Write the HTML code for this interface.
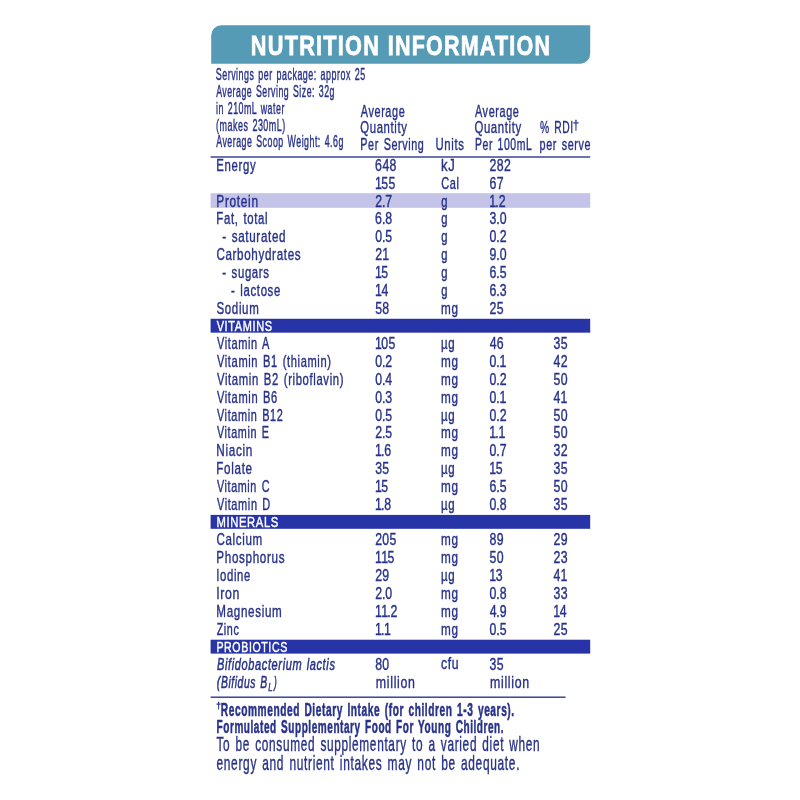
<!DOCTYPE html>
<html lang="en">
<head>
<meta charset="utf-8">
<title>Nutrition Information</title>
<style>
html,body{margin:0;padding:0;background:#ffffff;}
body{width:800px;height:800px;overflow:hidden;}
svg{display:block;}
svg text{font-family:"Liberation Sans",sans-serif;white-space:pre;}
</style>
</head>
<body>
<svg width="800" height="800" viewBox="0 0 800 800">
<rect width="800" height="800" fill="#ffffff"/>
<g fill="#28328a">
<path d="M221.2 25.3H590.2V53.8A10 10 0 0 1 580.2 63.8H211.2V35.3A10 10 0 0 1 221.2 25.3Z" fill="#559bb6"/>
<text transform="translate(250.84 54.65) scale(0.7893 1)" font-size="27.5" font-weight="bold" fill="#ffffff" letter-spacing="1.57" stroke="#ffffff" stroke-width="0.7" vector-effect="non-scaling-stroke">NUTRITION</text>
<text transform="translate(387.70 54.65) scale(0.7820 1)" font-size="27.5" font-weight="bold" fill="#ffffff" letter-spacing="1.57" stroke="#ffffff" stroke-width="0.7" vector-effect="non-scaling-stroke">INFORMATION</text>
<text transform="translate(215.77 79.80) scale(0.5460 1)" font-size="16.3" letter-spacing="0.93" word-spacing="1.65" stroke="#28328a" stroke-width="0.35" vector-effect="non-scaling-stroke">Servings per package: approx 25</text>
<text transform="translate(216.18 96.80) scale(0.5376 1)" font-size="16.3" letter-spacing="0.93" word-spacing="1.65" stroke="#28328a" stroke-width="0.35" vector-effect="non-scaling-stroke">Average Serving Size: 32g</text>
<text transform="translate(216.00 113.80) scale(0.5420 1)" font-size="16.3" letter-spacing="0.93" word-spacing="1.65" stroke="#28328a" stroke-width="0.35" vector-effect="non-scaling-stroke">in 210mL water</text>
<text transform="translate(216.04 130.80) scale(0.5502 1)" font-size="16.3" letter-spacing="0.93" word-spacing="1.65" stroke="#28328a" stroke-width="0.35" vector-effect="non-scaling-stroke">(makes 230mL)</text>
<text transform="translate(216.18 147.20) scale(0.5412 1)" font-size="16.3" letter-spacing="0.93" word-spacing="1.65" stroke="#28328a" stroke-width="0.35" vector-effect="non-scaling-stroke">Average Scoop Weight: 4.6g</text>
<text transform="translate(360.78 116.60) scale(0.6387 1)" font-size="17.0" letter-spacing="0.97" stroke="#28328a" stroke-width="0.35" vector-effect="non-scaling-stroke">Average</text>
<text transform="translate(360.26 133.20) scale(0.6670 1)" font-size="17.0" letter-spacing="0.97" stroke="#28328a" stroke-width="0.35" vector-effect="non-scaling-stroke">Quantity</text>
<text transform="translate(360.31 149.70) scale(0.6347 1)" font-size="17.0" letter-spacing="0.97" word-spacing="1.72" stroke="#28328a" stroke-width="0.35" vector-effect="non-scaling-stroke">Per Serving</text>
<text transform="translate(435.42 149.70) scale(0.6685 1)" font-size="17.0" letter-spacing="0.97" stroke="#28328a" stroke-width="0.35" vector-effect="non-scaling-stroke">Units</text>
<text transform="translate(474.93 116.60) scale(0.6394 1)" font-size="17.0" letter-spacing="0.97" stroke="#28328a" stroke-width="0.35" vector-effect="non-scaling-stroke">Average</text>
<text transform="translate(474.41 133.20) scale(0.6692 1)" font-size="17.0" letter-spacing="0.97" stroke="#28328a" stroke-width="0.35" vector-effect="non-scaling-stroke">Quantity</text>
<text transform="translate(474.94 149.70) scale(0.6134 1)" font-size="17.0" letter-spacing="0.97" word-spacing="1.72" stroke="#28328a" stroke-width="0.35" vector-effect="non-scaling-stroke">Per 100mL</text>
<text transform="translate(539.91 133.40) scale(0.6055 1)" font-size="17.0" letter-spacing="0.97" word-spacing="1.72" stroke="#28328a" stroke-width="0.35" vector-effect="non-scaling-stroke">% RDI</text>
<text transform="translate(572.96 129.05) scale(0.8120 1)" font-size="13.04" stroke="#28328a" stroke-width="0.3" vector-effect="non-scaling-stroke">†</text>
<text transform="translate(539.58 149.70) scale(0.6333 1)" font-size="17.0" letter-spacing="0.97" word-spacing="1.72" stroke="#28328a" stroke-width="0.35" vector-effect="non-scaling-stroke">per serve</text>
<rect x="210.6" y="156.3" width="379.6" height="1.4" fill="#2b3990"/>
<rect x="210.6" y="696.5" width="354.9" height="1.4" fill="#2b3990"/>
<text transform="translate(216.37 171.00) scale(0.7192 1)" font-size="15.8" letter-spacing="0.90" stroke="#28328a" stroke-width="0.35" vector-effect="non-scaling-stroke">Energy</text>
<text transform="translate(0 171.00) scale(0.78 1)" x="480.92 490.31 499.42" font-size="15.8" stroke="#28328a" stroke-width="0.35" vector-effect="non-scaling-stroke">648</text>
<text transform="translate(440.92 171.00) scale(0.8317 1)" font-size="15.8" letter-spacing="0.90" stroke="#28328a" stroke-width="0.35" vector-effect="non-scaling-stroke">kJ</text>
<text transform="translate(0 171.00) scale(0.78 1)" x="627.67 636.86 646.13" font-size="15.8" stroke="#28328a" stroke-width="0.35" vector-effect="non-scaling-stroke">282</text>
<text transform="translate(0 188.83) scale(0.78 1)" x="480.70 488.95 498.18" font-size="15.8" stroke="#28328a" stroke-width="0.35" vector-effect="non-scaling-stroke">155</text>
<text transform="translate(441.23 188.83) scale(0.6946 1)" font-size="15.8" letter-spacing="0.90" stroke="#28328a" stroke-width="0.35" vector-effect="non-scaling-stroke">Cal</text>
<text transform="translate(0 188.83) scale(0.78 1)" x="627.59 636.90" font-size="15.8" stroke="#28328a" stroke-width="0.35" vector-effect="non-scaling-stroke">67</text>
<rect x="210.6" y="193.2" width="379.6" height="14.6" fill="#c3c4e8"/>
<text transform="translate(216.32 206.66) scale(0.7521 1)" font-size="15.8" letter-spacing="0.90" stroke="#28328a" stroke-width="0.35" vector-effect="non-scaling-stroke">Protein</text>
<text transform="translate(0 206.66) scale(0.78 1)" x="481.00 489.69 493.95" font-size="15.8" stroke="#28328a" stroke-width="0.35" vector-effect="non-scaling-stroke">2.7</text>
<text transform="translate(441.33 206.66) scale(0.7103 1)" font-size="15.8" stroke="#28328a" stroke-width="0.35" vector-effect="non-scaling-stroke">g</text>
<text transform="translate(0 206.66) scale(0.78 1)" x="627.37 635.07 639.33" font-size="15.8" stroke="#28328a" stroke-width="0.35" vector-effect="non-scaling-stroke">1.2</text>
<text transform="translate(216.37 224.49) scale(0.7195 1)" font-size="15.8" letter-spacing="0.90" word-spacing="1.60" stroke="#28328a" stroke-width="0.35" vector-effect="non-scaling-stroke">Fat, total</text>
<text transform="translate(0 224.49) scale(0.78 1)" x="480.92 489.69 493.91" font-size="15.8" stroke="#28328a" stroke-width="0.35" vector-effect="non-scaling-stroke">6.8</text>
<text transform="translate(441.33 224.49) scale(0.7103 1)" font-size="15.8" stroke="#28328a" stroke-width="0.35" vector-effect="non-scaling-stroke">g</text>
<text transform="translate(0 224.49) scale(0.78 1)" x="627.67 636.35 640.58" font-size="15.8" stroke="#28328a" stroke-width="0.35" vector-effect="non-scaling-stroke">3.0</text>
<text transform="translate(222.15 242.32) scale(0.7365 1)" font-size="15.8" letter-spacing="0.90" word-spacing="1.60" stroke="#28328a" stroke-width="0.35" vector-effect="non-scaling-stroke">- saturated</text>
<text transform="translate(0 242.32) scale(0.78 1)" x="480.96 489.69 493.95" font-size="15.8" stroke="#28328a" stroke-width="0.35" vector-effect="non-scaling-stroke">0.5</text>
<text transform="translate(441.33 242.32) scale(0.7103 1)" font-size="15.8" stroke="#28328a" stroke-width="0.35" vector-effect="non-scaling-stroke">g</text>
<text transform="translate(0 242.32) scale(0.78 1)" x="627.63 636.35 640.62" font-size="15.8" stroke="#28328a" stroke-width="0.35" vector-effect="non-scaling-stroke">0.2</text>
<text transform="translate(216.39 260.15) scale(0.7369 1)" font-size="15.8" letter-spacing="0.90" stroke="#28328a" stroke-width="0.35" vector-effect="non-scaling-stroke">Carbohydrates</text>
<text transform="translate(0 260.15) scale(0.78 1)" x="481.00 489.93" font-size="15.8" stroke="#28328a" stroke-width="0.35" vector-effect="non-scaling-stroke">21</text>
<text transform="translate(441.33 260.15) scale(0.7103 1)" font-size="15.8" stroke="#28328a" stroke-width="0.35" vector-effect="non-scaling-stroke">g</text>
<text transform="translate(0 260.15) scale(0.78 1)" x="627.67 636.35 640.58" font-size="15.8" stroke="#28328a" stroke-width="0.35" vector-effect="non-scaling-stroke">9.0</text>
<text transform="translate(222.16 277.98) scale(0.7209 1)" font-size="15.8" letter-spacing="0.90" word-spacing="1.60" stroke="#28328a" stroke-width="0.35" vector-effect="non-scaling-stroke">- sugars</text>
<text transform="translate(0 277.98) scale(0.78 1)" x="480.70 488.95" font-size="15.8" stroke="#28328a" stroke-width="0.35" vector-effect="non-scaling-stroke">15</text>
<text transform="translate(441.33 277.98) scale(0.7103 1)" font-size="15.8" stroke="#28328a" stroke-width="0.35" vector-effect="non-scaling-stroke">g</text>
<text transform="translate(0 277.98) scale(0.78 1)" x="627.59 636.35 640.62" font-size="15.8" stroke="#28328a" stroke-width="0.35" vector-effect="non-scaling-stroke">6.5</text>
<text transform="translate(230.91 295.81) scale(0.7213 1)" font-size="15.8" letter-spacing="0.90" word-spacing="1.60" stroke="#28328a" stroke-width="0.35" vector-effect="non-scaling-stroke">- lactose</text>
<text transform="translate(0 295.81) scale(0.78 1)" x="480.70 489.03" font-size="15.8" stroke="#28328a" stroke-width="0.35" vector-effect="non-scaling-stroke">14</text>
<text transform="translate(441.33 295.81) scale(0.7103 1)" font-size="15.8" stroke="#28328a" stroke-width="0.35" vector-effect="non-scaling-stroke">g</text>
<text transform="translate(0 295.81) scale(0.78 1)" x="627.59 636.35 640.62" font-size="15.8" stroke="#28328a" stroke-width="0.35" vector-effect="non-scaling-stroke">6.3</text>
<text transform="translate(216.46 313.64) scale(0.7287 1)" font-size="15.8" letter-spacing="0.90" stroke="#28328a" stroke-width="0.35" vector-effect="non-scaling-stroke">Sodium</text>
<text transform="translate(0 313.64) scale(0.78 1)" x="481.00 490.19" font-size="15.8" stroke="#28328a" stroke-width="0.35" vector-effect="non-scaling-stroke">58</text>
<text transform="translate(441.01 313.64) scale(0.7425 1)" font-size="15.8" letter-spacing="0.90" stroke="#28328a" stroke-width="0.35" vector-effect="non-scaling-stroke">mg</text>
<text transform="translate(0 313.64) scale(0.78 1)" x="627.67 636.90" font-size="15.8" stroke="#28328a" stroke-width="0.35" vector-effect="non-scaling-stroke">25</text>
<rect x="210.6" y="318.77" width="379.6" height="13.9" fill="#2634a8"/>
<text transform="translate(216.65 331.02) scale(0.7479 1)" font-size="14.7" fill="#ffffff" letter-spacing="0.84" stroke="#ffffff" stroke-width="0.4" vector-effect="non-scaling-stroke">VITAMINS</text>
<text transform="translate(216.92 349.30) scale(0.6965 1)" font-size="15.8" letter-spacing="0.90" word-spacing="1.60" stroke="#28328a" stroke-width="0.35" vector-effect="non-scaling-stroke">Vitamin A</text>
<text transform="translate(0 349.30) scale(0.78 1)" x="480.70 488.91 498.18" font-size="15.8" stroke="#28328a" stroke-width="0.35" vector-effect="non-scaling-stroke">105</text>
<text transform="translate(440.97 349.30) scale(0.7250 1)" font-size="15.8" letter-spacing="0.90" stroke="#28328a" stroke-width="0.35" vector-effect="non-scaling-stroke">µg</text>
<text transform="translate(0 349.30) scale(0.78 1)" x="627.75 636.82" font-size="15.8" stroke="#28328a" stroke-width="0.35" vector-effect="non-scaling-stroke">46</text>
<text transform="translate(0 349.30) scale(0.78 1)" x="709.59 718.82" font-size="15.8" stroke="#28328a" stroke-width="0.35" vector-effect="non-scaling-stroke">35</text>
<text transform="translate(216.92 367.13) scale(0.7034 1)" font-size="15.8" letter-spacing="0.90" word-spacing="1.60" stroke="#28328a" stroke-width="0.35" vector-effect="non-scaling-stroke">Vitamin B1 (thiamin)</text>
<text transform="translate(0 367.13) scale(0.78 1)" x="480.96 489.69 493.95" font-size="15.8" stroke="#28328a" stroke-width="0.35" vector-effect="non-scaling-stroke">0.2</text>
<text transform="translate(441.01 367.13) scale(0.7425 1)" font-size="15.8" letter-spacing="0.90" stroke="#28328a" stroke-width="0.35" vector-effect="non-scaling-stroke">mg</text>
<text transform="translate(0 367.13) scale(0.78 1)" x="627.63 636.35 640.31" font-size="15.8" stroke="#28328a" stroke-width="0.35" vector-effect="non-scaling-stroke">0.1</text>
<text transform="translate(0 367.13) scale(0.78 1)" x="709.67 718.82" font-size="15.8" stroke="#28328a" stroke-width="0.35" vector-effect="non-scaling-stroke">42</text>
<text transform="translate(216.92 384.96) scale(0.7143 1)" font-size="15.8" letter-spacing="0.90" word-spacing="1.60" stroke="#28328a" stroke-width="0.35" vector-effect="non-scaling-stroke">Vitamin B2 (riboflavin)</text>
<text transform="translate(0 384.96) scale(0.78 1)" x="480.96 489.69 494.03" font-size="15.8" stroke="#28328a" stroke-width="0.35" vector-effect="non-scaling-stroke">0.4</text>
<text transform="translate(441.01 384.96) scale(0.7425 1)" font-size="15.8" letter-spacing="0.90" stroke="#28328a" stroke-width="0.35" vector-effect="non-scaling-stroke">mg</text>
<text transform="translate(0 384.96) scale(0.78 1)" x="627.63 636.35 640.62" font-size="15.8" stroke="#28328a" stroke-width="0.35" vector-effect="non-scaling-stroke">0.2</text>
<text transform="translate(0 384.96) scale(0.78 1)" x="709.59 718.78" font-size="15.8" stroke="#28328a" stroke-width="0.35" vector-effect="non-scaling-stroke">50</text>
<text transform="translate(216.92 402.79) scale(0.7036 1)" font-size="15.8" letter-spacing="0.90" word-spacing="1.60" stroke="#28328a" stroke-width="0.35" vector-effect="non-scaling-stroke">Vitamin B6</text>
<text transform="translate(0 402.79) scale(0.78 1)" x="480.96 489.69 493.95" font-size="15.8" stroke="#28328a" stroke-width="0.35" vector-effect="non-scaling-stroke">0.3</text>
<text transform="translate(441.01 402.79) scale(0.7425 1)" font-size="15.8" letter-spacing="0.90" stroke="#28328a" stroke-width="0.35" vector-effect="non-scaling-stroke">mg</text>
<text transform="translate(0 402.79) scale(0.78 1)" x="627.63 636.35 640.31" font-size="15.8" stroke="#28328a" stroke-width="0.35" vector-effect="non-scaling-stroke">0.1</text>
<text transform="translate(0 402.79) scale(0.78 1)" x="709.67 718.52" font-size="15.8" stroke="#28328a" stroke-width="0.35" vector-effect="non-scaling-stroke">41</text>
<text transform="translate(216.92 420.62) scale(0.6904 1)" font-size="15.8" letter-spacing="0.90" word-spacing="1.60" stroke="#28328a" stroke-width="0.35" vector-effect="non-scaling-stroke">Vitamin B12</text>
<text transform="translate(0 420.62) scale(0.78 1)" x="480.96 489.69 493.95" font-size="15.8" stroke="#28328a" stroke-width="0.35" vector-effect="non-scaling-stroke">0.5</text>
<text transform="translate(440.97 420.62) scale(0.7250 1)" font-size="15.8" letter-spacing="0.90" stroke="#28328a" stroke-width="0.35" vector-effect="non-scaling-stroke">µg</text>
<text transform="translate(0 420.62) scale(0.78 1)" x="627.63 636.35 640.62" font-size="15.8" stroke="#28328a" stroke-width="0.35" vector-effect="non-scaling-stroke">0.2</text>
<text transform="translate(0 420.62) scale(0.78 1)" x="709.59 718.78" font-size="15.8" stroke="#28328a" stroke-width="0.35" vector-effect="non-scaling-stroke">50</text>
<text transform="translate(216.92 438.45) scale(0.6844 1)" font-size="15.8" letter-spacing="0.90" word-spacing="1.60" stroke="#28328a" stroke-width="0.35" vector-effect="non-scaling-stroke">Vitamin E</text>
<text transform="translate(0 438.45) scale(0.78 1)" x="481.00 489.69 493.95" font-size="15.8" stroke="#28328a" stroke-width="0.35" vector-effect="non-scaling-stroke">2.5</text>
<text transform="translate(441.01 438.45) scale(0.7425 1)" font-size="15.8" letter-spacing="0.90" stroke="#28328a" stroke-width="0.35" vector-effect="non-scaling-stroke">mg</text>
<text transform="translate(0 438.45) scale(0.78 1)" x="627.37 635.07 639.03" font-size="15.8" stroke="#28328a" stroke-width="0.35" vector-effect="non-scaling-stroke">1.1</text>
<text transform="translate(0 438.45) scale(0.78 1)" x="709.59 718.78" font-size="15.8" stroke="#28328a" stroke-width="0.35" vector-effect="non-scaling-stroke">50</text>
<text transform="translate(216.34 456.28) scale(0.7435 1)" font-size="15.8" letter-spacing="0.90" stroke="#28328a" stroke-width="0.35" vector-effect="non-scaling-stroke">Niacin</text>
<text transform="translate(0 456.28) scale(0.78 1)" x="480.70 488.40 492.59" font-size="15.8" stroke="#28328a" stroke-width="0.35" vector-effect="non-scaling-stroke">1.6</text>
<text transform="translate(441.01 456.28) scale(0.7425 1)" font-size="15.8" letter-spacing="0.90" stroke="#28328a" stroke-width="0.35" vector-effect="non-scaling-stroke">mg</text>
<text transform="translate(0 456.28) scale(0.78 1)" x="627.63 636.35 640.62" font-size="15.8" stroke="#28328a" stroke-width="0.35" vector-effect="non-scaling-stroke">0.7</text>
<text transform="translate(0 456.28) scale(0.78 1)" x="709.59 718.82" font-size="15.8" stroke="#28328a" stroke-width="0.35" vector-effect="non-scaling-stroke">32</text>
<text transform="translate(216.34 474.11) scale(0.7384 1)" font-size="15.8" letter-spacing="0.90" stroke="#28328a" stroke-width="0.35" vector-effect="non-scaling-stroke">Folate</text>
<text transform="translate(0 474.11) scale(0.78 1)" x="481.00 490.23" font-size="15.8" stroke="#28328a" stroke-width="0.35" vector-effect="non-scaling-stroke">35</text>
<text transform="translate(440.97 474.11) scale(0.7250 1)" font-size="15.8" letter-spacing="0.90" stroke="#28328a" stroke-width="0.35" vector-effect="non-scaling-stroke">µg</text>
<text transform="translate(0 474.11) scale(0.78 1)" x="627.37 635.62" font-size="15.8" stroke="#28328a" stroke-width="0.35" vector-effect="non-scaling-stroke">15</text>
<text transform="translate(0 474.11) scale(0.78 1)" x="709.59 718.82" font-size="15.8" stroke="#28328a" stroke-width="0.35" vector-effect="non-scaling-stroke">35</text>
<text transform="translate(216.92 491.94) scale(0.6824 1)" font-size="15.8" letter-spacing="0.90" word-spacing="1.60" stroke="#28328a" stroke-width="0.35" vector-effect="non-scaling-stroke">Vitamin C</text>
<text transform="translate(0 491.94) scale(0.78 1)" x="480.70 488.95" font-size="15.8" stroke="#28328a" stroke-width="0.35" vector-effect="non-scaling-stroke">15</text>
<text transform="translate(441.01 491.94) scale(0.7425 1)" font-size="15.8" letter-spacing="0.90" stroke="#28328a" stroke-width="0.35" vector-effect="non-scaling-stroke">mg</text>
<text transform="translate(0 491.94) scale(0.78 1)" x="627.59 636.35 640.62" font-size="15.8" stroke="#28328a" stroke-width="0.35" vector-effect="non-scaling-stroke">6.5</text>
<text transform="translate(0 491.94) scale(0.78 1)" x="709.59 718.78" font-size="15.8" stroke="#28328a" stroke-width="0.35" vector-effect="non-scaling-stroke">50</text>
<text transform="translate(216.92 509.77) scale(0.6937 1)" font-size="15.8" letter-spacing="0.90" word-spacing="1.60" stroke="#28328a" stroke-width="0.35" vector-effect="non-scaling-stroke">Vitamin D</text>
<text transform="translate(0 509.77) scale(0.78 1)" x="480.70 488.40 492.63" font-size="15.8" stroke="#28328a" stroke-width="0.35" vector-effect="non-scaling-stroke">1.8</text>
<text transform="translate(440.97 509.77) scale(0.7250 1)" font-size="15.8" letter-spacing="0.90" stroke="#28328a" stroke-width="0.35" vector-effect="non-scaling-stroke">µg</text>
<text transform="translate(0 509.77) scale(0.78 1)" x="627.63 636.35 640.58" font-size="15.8" stroke="#28328a" stroke-width="0.35" vector-effect="non-scaling-stroke">0.8</text>
<text transform="translate(0 509.77) scale(0.78 1)" x="709.59 718.82" font-size="15.8" stroke="#28328a" stroke-width="0.35" vector-effect="non-scaling-stroke">35</text>
<rect x="210.6" y="514.9" width="379.6" height="13.9" fill="#2634a8"/>
<text transform="translate(216.40 527.15) scale(0.7645 1)" font-size="14.7" fill="#ffffff" letter-spacing="0.84" stroke="#ffffff" stroke-width="0.4" vector-effect="non-scaling-stroke">MINERALS</text>
<text transform="translate(216.39 545.43) scale(0.7348 1)" font-size="15.8" letter-spacing="0.90" stroke="#28328a" stroke-width="0.35" vector-effect="non-scaling-stroke">Calcium</text>
<text transform="translate(0 545.43) scale(0.78 1)" x="481.00 490.19 499.46" font-size="15.8" stroke="#28328a" stroke-width="0.35" vector-effect="non-scaling-stroke">205</text>
<text transform="translate(441.01 545.43) scale(0.7425 1)" font-size="15.8" letter-spacing="0.90" stroke="#28328a" stroke-width="0.35" vector-effect="non-scaling-stroke">mg</text>
<text transform="translate(0 545.43) scale(0.78 1)" x="627.63 636.90" font-size="15.8" stroke="#28328a" stroke-width="0.35" vector-effect="non-scaling-stroke">89</text>
<text transform="translate(0 545.43) scale(0.78 1)" x="709.59 718.82" font-size="15.8" stroke="#28328a" stroke-width="0.35" vector-effect="non-scaling-stroke">29</text>
<text transform="translate(216.34 563.26) scale(0.7375 1)" font-size="15.8" letter-spacing="0.90" stroke="#28328a" stroke-width="0.35" vector-effect="non-scaling-stroke">Phosphorus</text>
<text transform="translate(0 563.26) scale(0.78 1)" x="480.70 488.65 496.90" font-size="15.8" stroke="#28328a" stroke-width="0.35" vector-effect="non-scaling-stroke">115</text>
<text transform="translate(441.01 563.26) scale(0.7425 1)" font-size="15.8" letter-spacing="0.90" stroke="#28328a" stroke-width="0.35" vector-effect="non-scaling-stroke">mg</text>
<text transform="translate(0 563.26) scale(0.78 1)" x="627.67 636.86" font-size="15.8" stroke="#28328a" stroke-width="0.35" vector-effect="non-scaling-stroke">50</text>
<text transform="translate(0 563.26) scale(0.78 1)" x="709.59 718.82" font-size="15.8" stroke="#28328a" stroke-width="0.35" vector-effect="non-scaling-stroke">23</text>
<text transform="translate(216.26 581.09) scale(0.7166 1)" font-size="15.8" letter-spacing="0.90" stroke="#28328a" stroke-width="0.35" vector-effect="non-scaling-stroke">Iodine</text>
<text transform="translate(0 581.09) scale(0.78 1)" x="481.00 490.23" font-size="15.8" stroke="#28328a" stroke-width="0.35" vector-effect="non-scaling-stroke">29</text>
<text transform="translate(440.97 581.09) scale(0.7250 1)" font-size="15.8" letter-spacing="0.90" stroke="#28328a" stroke-width="0.35" vector-effect="non-scaling-stroke">µg</text>
<text transform="translate(0 581.09) scale(0.78 1)" x="627.37 635.62" font-size="15.8" stroke="#28328a" stroke-width="0.35" vector-effect="non-scaling-stroke">13</text>
<text transform="translate(0 581.09) scale(0.78 1)" x="709.67 718.52" font-size="15.8" stroke="#28328a" stroke-width="0.35" vector-effect="non-scaling-stroke">41</text>
<text transform="translate(216.17 598.92) scale(0.7766 1)" font-size="15.8" letter-spacing="0.90" stroke="#28328a" stroke-width="0.35" vector-effect="non-scaling-stroke">Iron</text>
<text transform="translate(0 598.92) scale(0.78 1)" x="481.00 489.69 493.91" font-size="15.8" stroke="#28328a" stroke-width="0.35" vector-effect="non-scaling-stroke">2.0</text>
<text transform="translate(441.01 598.92) scale(0.7425 1)" font-size="15.8" letter-spacing="0.90" stroke="#28328a" stroke-width="0.35" vector-effect="non-scaling-stroke">mg</text>
<text transform="translate(0 598.92) scale(0.78 1)" x="627.63 636.35 640.58" font-size="15.8" stroke="#28328a" stroke-width="0.35" vector-effect="non-scaling-stroke">0.8</text>
<text transform="translate(0 598.92) scale(0.78 1)" x="709.59 718.82" font-size="15.8" stroke="#28328a" stroke-width="0.35" vector-effect="non-scaling-stroke">33</text>
<text transform="translate(216.34 616.75) scale(0.7368 1)" font-size="15.8" letter-spacing="0.90" stroke="#28328a" stroke-width="0.35" vector-effect="non-scaling-stroke">Magnesium</text>
<text transform="translate(0 616.75) scale(0.78 1)" x="480.70 488.65 496.35 500.62" font-size="15.8" stroke="#28328a" stroke-width="0.35" vector-effect="non-scaling-stroke">11.2</text>
<text transform="translate(441.01 616.75) scale(0.7425 1)" font-size="15.8" letter-spacing="0.90" stroke="#28328a" stroke-width="0.35" vector-effect="non-scaling-stroke">mg</text>
<text transform="translate(0 616.75) scale(0.78 1)" x="627.75 636.35 640.62" font-size="15.8" stroke="#28328a" stroke-width="0.35" vector-effect="non-scaling-stroke">4.9</text>
<text transform="translate(0 616.75) scale(0.78 1)" x="709.29 717.62" font-size="15.8" stroke="#28328a" stroke-width="0.35" vector-effect="non-scaling-stroke">14</text>
<text transform="translate(216.65 634.58) scale(0.6815 1)" font-size="15.8" letter-spacing="0.90" stroke="#28328a" stroke-width="0.35" vector-effect="non-scaling-stroke">Zinc</text>
<text transform="translate(0 634.58) scale(0.78 1)" x="480.70 488.40 492.37" font-size="15.8" stroke="#28328a" stroke-width="0.35" vector-effect="non-scaling-stroke">1.1</text>
<text transform="translate(441.01 634.58) scale(0.7425 1)" font-size="15.8" letter-spacing="0.90" stroke="#28328a" stroke-width="0.35" vector-effect="non-scaling-stroke">mg</text>
<text transform="translate(0 634.58) scale(0.78 1)" x="627.63 636.35 640.62" font-size="15.8" stroke="#28328a" stroke-width="0.35" vector-effect="non-scaling-stroke">0.5</text>
<text transform="translate(0 634.58) scale(0.78 1)" x="709.59 718.82" font-size="15.8" stroke="#28328a" stroke-width="0.35" vector-effect="non-scaling-stroke">25</text>
<rect x="210.6" y="639.71" width="379.6" height="13.9" fill="#2634a8"/>
<text transform="translate(216.45 651.96) scale(0.7215 1)" font-size="14.7" fill="#ffffff" letter-spacing="0.84" stroke="#ffffff" stroke-width="0.4" vector-effect="non-scaling-stroke">PROBIOTICS</text>
<text transform="translate(216.99 670.24) scale(0.6974 1)" font-size="15.8" font-style="italic" letter-spacing="0.90" word-spacing="1.00" stroke="#28328a" stroke-width="0.45" vector-effect="non-scaling-stroke">Bifidobacterium lactis</text>
<text transform="translate(0 670.24) scale(0.78 1)" x="480.96 490.19" font-size="15.8" stroke="#28328a" stroke-width="0.35" vector-effect="non-scaling-stroke">80</text>
<text transform="translate(440.94 669.04) scale(0.7723 1)" font-size="15.8" letter-spacing="0.90" stroke="#28328a" stroke-width="0.35" vector-effect="non-scaling-stroke">cfu</text>
<text transform="translate(0 670.24) scale(0.78 1)" x="627.67 636.90" font-size="15.8" stroke="#28328a" stroke-width="0.35" vector-effect="non-scaling-stroke">35</text>
<text transform="translate(216.86 688.07) scale(0.6553 1)" font-size="15.8" font-style="italic" letter-spacing="0.90" word-spacing="1.00" stroke="#28328a" stroke-width="0.45" vector-effect="non-scaling-stroke">(Bifidus B</text>
<text transform="translate(375.77 688.07) scale(0.7821 1)" font-size="15.8" letter-spacing="0.90" stroke="#28328a" stroke-width="0.35" vector-effect="non-scaling-stroke">million</text>
<text transform="translate(489.97 688.07) scale(0.7821 1)" font-size="15.8" letter-spacing="0.90" stroke="#28328a" stroke-width="0.35" vector-effect="non-scaling-stroke">million</text>
<text transform="translate(268.34 690.77) scale(0.7431 1)" font-size="10.5" font-style="italic" stroke="#28328a" stroke-width="0.35" vector-effect="non-scaling-stroke">L</text>
<text transform="translate(274.01 688.07) scale(0.5217 1)" font-size="15.8" font-style="italic" stroke="#28328a" stroke-width="0.45" vector-effect="non-scaling-stroke">)</text>
<text transform="translate(216.20 709.32) scale(0.9422 1)" font-size="8.99" font-weight="bold" stroke="#28328a" stroke-width="0.3" vector-effect="non-scaling-stroke">†</text>
<text transform="translate(220.76 716.10) scale(0.5588 1)" font-size="18.2" font-weight="bold" letter-spacing="1.04" word-spacing="1.84" stroke="#28328a" stroke-width="0.45" vector-effect="non-scaling-stroke">Recommended Dietary Intake (for children 1-3 years).</text>
<text transform="translate(216.57 732.60) scale(0.5496 1)" font-size="18.2" font-weight="bold" letter-spacing="1.04" word-spacing="1.84" stroke="#28328a" stroke-width="0.45" vector-effect="non-scaling-stroke">Formulated Supplementary Food For Young Children.</text>
<text transform="translate(216.44 751.20) scale(0.5869 1)" font-size="20.2" letter-spacing="1.15" word-spacing="2.05" stroke="#28328a" stroke-width="0.35" vector-effect="non-scaling-stroke">To be consumed supplementary to a varied diet when</text>
<text transform="translate(216.50 770.30) scale(0.5908 1)" font-size="20.2" letter-spacing="1.15" word-spacing="2.05" stroke="#28328a" stroke-width="0.35" vector-effect="non-scaling-stroke">energy and nutrient intakes may not be adequate.</text>
</g>
</svg>
</body>
</html>
